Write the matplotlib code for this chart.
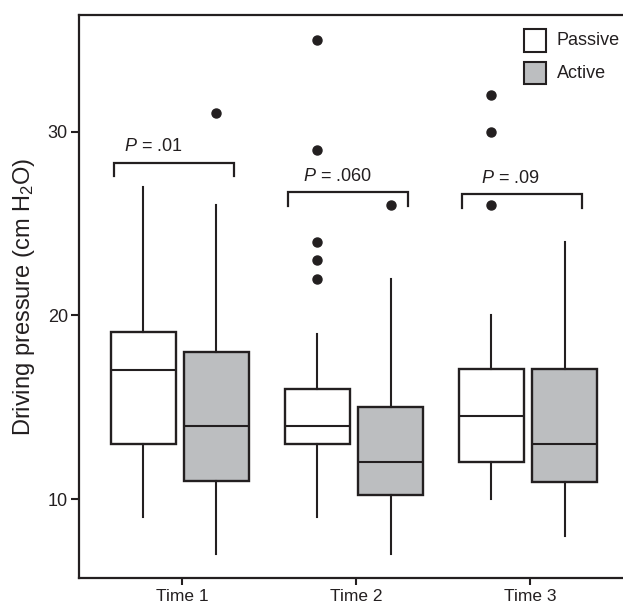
import matplotlib
matplotlib.use("Agg")
import matplotlib.pyplot as plt
import matplotlib.patches as patches

plt.rcParams['font.family'] = ['Liberation Sans', 'DejaVu Sans']
plt.rcParams['mathtext.fontset'] = 'custom'
plt.rcParams['mathtext.rm'] = 'Liberation Sans'
plt.rcParams['mathtext.it'] = 'Liberation Sans:italic'

INK = '#231f20'
GREY = '#bcbec0'

# Data (cm H2O)
times = ['Time 1', 'Time 2', 'Time 3']

passive_low = [9, 9, 10]
passive_q1 = [13, 13, 12]
passive_med = [17, 14, 14.5]
passive_q3 = [19.1, 16, 17.1]
passive_high = [27, 19, 20]
passive_out = [[], [35, 29, 24, 23, 22], [32, 30, 26]]

active_low = [7, 7, 8]
active_q1 = [11, 10.2, 10.9]
active_med = [14, 12, 13]
active_q3 = [18, 15, 17.1]
active_high = [26, 22, 24]
active_out = [[31], [26], []]

p_labels = ['.01', '.060', '.09']
bracket_tops = [28.3, 26.7, 26.6]
p_text_shift = [-0.12, -0.06, -0.07]


def make_stats(low, q1, med, q3, high, out):
    return [dict(whislo=a, q1=b, med=c, q3=d, whishi=e, fliers=f)
            for a, b, c, d, e, f in zip(low, q1, med, q3, high, out)]


fig = plt.figure(figsize=(6.23, 6.05), dpi=100)
ax = fig.add_axes([79 / 623, 27 / 605, 1 - 79 / 623, 563 / 605])

groups = [1, 2, 3]
line_kw = dict(color=INK, linewidth=1.5)
flier_kw = dict(marker='o', markerfacecolor=INK, markeredgecolor=INK, markersize=6.5, linestyle='none')

for stats, offset, fill in [
    (make_stats(passive_low, passive_q1, passive_med, passive_q3, passive_high, passive_out), -0.222, 'white'),
    (make_stats(active_low, active_q1, active_med, active_q3, active_high, active_out), 0.198, GREY),
]:
    ax.bxp(stats, positions=[g + offset for g in groups], widths=0.37,
           patch_artist=True, showcaps=False,
           boxprops=dict(facecolor=fill, edgecolor=INK, linewidth=1.7),
           medianprops=line_kw, whiskerprops=line_kw, flierprops=flier_kw,
           manage_ticks=False)

# significance brackets
for g, top, lab, sh in zip(groups, bracket_tops, p_labels, p_text_shift):
    x0, x1 = g - 0.39, g + 0.30
    ax.plot([x0, x0, x1, x1], [top - 0.73, top, top, top - 0.73], color=INK, linewidth=1.6,
            solid_joinstyle='miter')
    ax.text((x0 + x1) / 2 + sh, top + 0.62, r'$\mathit{P}$ = ' + lab, ha='center', va='baseline',
            fontsize=13, color=INK)

ax.set_xlim(0.408, 3.534)
ax.set_ylim(5.7, 36.35)
ax.set_xticks(groups)
ax.set_xticklabels(times)
ax.set_yticks([10, 20, 30])
ax.tick_params(axis='y', labelsize=13, length=5.5, width=1.5, pad=2.5, colors=INK)
ax.tick_params(axis='x', labelsize=12.5, length=5, width=1.5, pad=3, colors=INK)
ax.set_ylabel('Driving pressure (cm H$_2$O)', fontsize=17, color=INK, labelpad=8)

for side in ['left', 'bottom', 'top']:
    ax.spines[side].set_linewidth(1.6)
    ax.spines[side].set_color(INK)
ax.spines['right'].set_visible(False)

# legend, drawn by hand
def px(x, y):
    return x / 623, 1 - y / 605

for y_top, fill, name in [(29.5, 'white', 'Passive'), (62, GREY, 'Active')]:
    fig.patches.append(patches.Rectangle(px(523.5, y_top + 22), 22.5 / 623, 22 / 605,
                                         transform=fig.transFigure, facecolor=fill,
                                         edgecolor=INK, linewidth=1.5))
    fig.text(*px(556.5, y_top + 11), name, fontsize=13, color=INK, ha='left', va='center')

fig.savefig('out.png', dpi=100)
